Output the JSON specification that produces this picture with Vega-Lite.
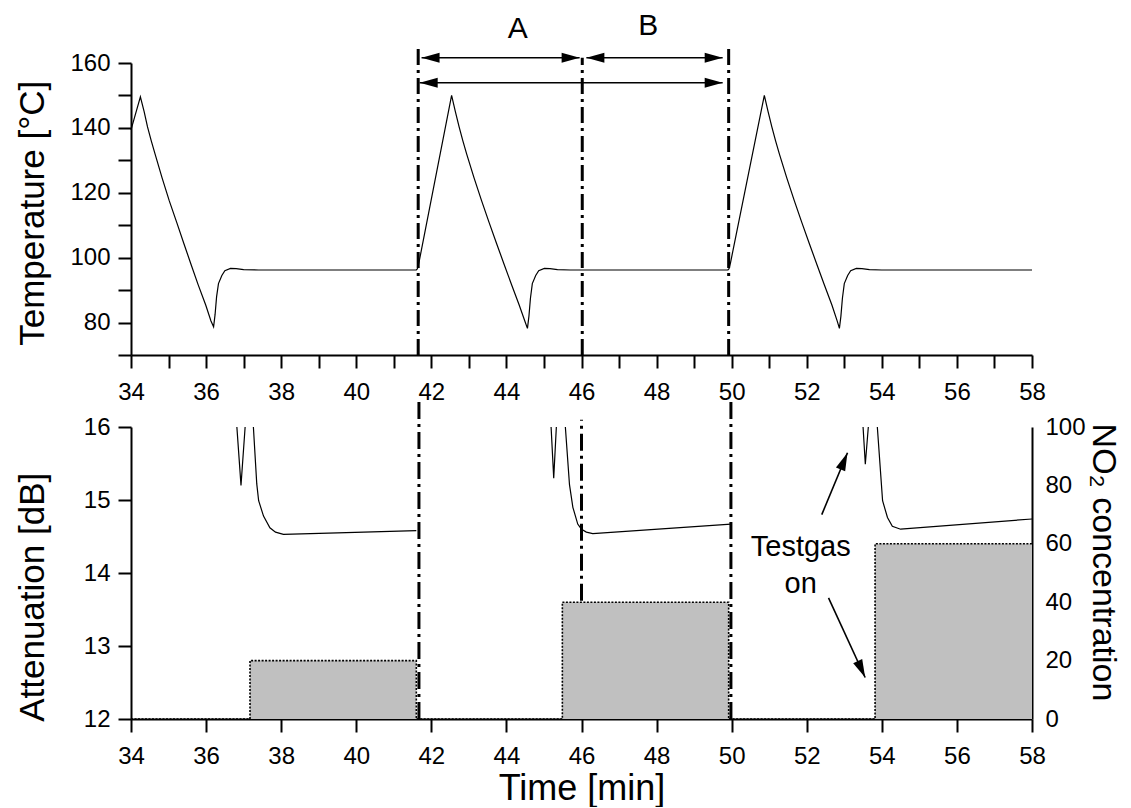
{
  "$schema": "https://vega.github.io/schema/vega-lite/v6.json",
  "background": "white",
  "padding": {"left": 15, "top": 11, "right": 0, "bottom": 0},
  "config": {
    "view": {"stroke": null},
    "font": "Liberation Sans",
    "axis": {
      "domainColor": "black", "domainWidth": 2, "tickColor": "black", "tickWidth": 2,
      "labelColor": "black", "labelFont": "Liberation Sans", "labelFontSize": 24,
      "titleFont": "Liberation Sans", "titleFontSize": 35, "titleFontWeight": "normal", "titleColor": "black",
      "grid": false, "labelOverlap": false, "labelFlush": false, "tickSize": 13, "labelPadding": 8
    }
  },
  "spacing": 72,
  "bounds": "flush",
  "datasets": {
    "temp": [
      {"t": 34.0, "T": 139.4}, {"t": 34.25, "T": 149.6}, {"t": 34.35, "T": 145}, {"t": 34.44, "T": 140.3},
      {"t": 34.54, "T": 136}, {"t": 34.64, "T": 132}, {"t": 34.83, "T": 124.5}, {"t": 35.02, "T": 117.5},
      {"t": 35.22, "T": 110.8}, {"t": 35.41, "T": 104.3}, {"t": 35.6, "T": 97.9}, {"t": 35.79, "T": 91.6},
      {"t": 35.99, "T": 85.4}, {"t": 36.13, "T": 80.5}, {"t": 36.2, "T": 78.7}, {"t": 36.24, "T": 82.5},
      {"t": 36.28, "T": 88}, {"t": 36.33, "T": 92}, {"t": 36.42, "T": 94.5}, {"t": 36.5, "T": 96},
      {"t": 36.65, "T": 96.7}, {"t": 36.8, "T": 96.6}, {"t": 37.0, "T": 96.3}, {"t": 37.4, "T": 96.2},
      {"t": 41.6, "T": 96.2}, {"t": 41.63, "T": 96.6}, {"t": 41.67, "T": 98.5}, {"t": 42.54, "T": 150},
      {"t": 42.64, "T": 145}, {"t": 42.74, "T": 140.3}, {"t": 42.84, "T": 136}, {"t": 42.94, "T": 132},
      {"t": 43.14, "T": 124.5}, {"t": 43.34, "T": 117.5}, {"t": 43.54, "T": 110.8}, {"t": 43.74, "T": 104.3},
      {"t": 43.94, "T": 97.9}, {"t": 44.14, "T": 91.6}, {"t": 44.34, "T": 85.4}, {"t": 44.49, "T": 80.5},
      {"t": 44.56, "T": 78.2}, {"t": 44.6, "T": 82}, {"t": 44.64, "T": 87.5}, {"t": 44.69, "T": 92},
      {"t": 44.78, "T": 94.5}, {"t": 44.86, "T": 96}, {"t": 45.01, "T": 96.7}, {"t": 45.16, "T": 96.6},
      {"t": 45.36, "T": 96.3}, {"t": 45.7, "T": 96.2}, {"t": 49.9, "T": 96.2}, {"t": 49.93, "T": 96.6},
      {"t": 49.97, "T": 98.5}, {"t": 50.87, "T": 150}, {"t": 50.97, "T": 145}, {"t": 51.07, "T": 140.3},
      {"t": 51.17, "T": 136}, {"t": 51.27, "T": 132}, {"t": 51.47, "T": 124.5}, {"t": 51.67, "T": 117.5},
      {"t": 51.87, "T": 110.8}, {"t": 52.07, "T": 104.3}, {"t": 52.27, "T": 97.9}, {"t": 52.47, "T": 91.6},
      {"t": 52.67, "T": 85.4}, {"t": 52.81, "T": 80.5}, {"t": 52.87, "T": 78.2}, {"t": 52.91, "T": 82},
      {"t": 52.95, "T": 87.5}, {"t": 53.0, "T": 92}, {"t": 53.09, "T": 94.5}, {"t": 53.17, "T": 96},
      {"t": 53.32, "T": 96.7}, {"t": 53.47, "T": 96.6}, {"t": 53.67, "T": 96.3}, {"t": 54.0, "T": 96.2},
      {"t": 58.0, "T": 96.2}
    ],
    "att": [
      {"seg": 1, "t": 36.82, "A": 16.0}, {"seg": 1, "t": 36.93, "A": 15.2}, {"seg": 1, "t": 37.04, "A": 16.0},
      {"seg": 1, "t": 37.15, "A": 17.0}, {"seg": 1, "t": 37.26, "A": 16.0}, {"seg": 1, "t": 37.35, "A": 15.22},
      {"seg": 1, "t": 37.4, "A": 14.99}, {"seg": 1, "t": 37.53, "A": 14.78}, {"seg": 1, "t": 37.7, "A": 14.62},
      {"seg": 1, "t": 37.85, "A": 14.56}, {"seg": 1, "t": 38.06, "A": 14.53}, {"seg": 1, "t": 39.5, "A": 14.55},
      {"seg": 1, "t": 41.6, "A": 14.58},
      {"seg": 2, "t": 45.19, "A": 16.0}, {"seg": 2, "t": 45.26, "A": 15.3}, {"seg": 2, "t": 45.33, "A": 16.0},
      {"seg": 2, "t": 45.45, "A": 17.0}, {"seg": 2, "t": 45.57, "A": 16.0}, {"seg": 2, "t": 45.68, "A": 15.21},
      {"seg": 2, "t": 45.77, "A": 14.9}, {"seg": 2, "t": 45.9, "A": 14.67}, {"seg": 2, "t": 46.0, "A": 14.6},
      {"seg": 2, "t": 46.13, "A": 14.56}, {"seg": 2, "t": 46.3, "A": 14.54}, {"seg": 2, "t": 49.98, "A": 14.67},
      {"seg": 3, "t": 53.5, "A": 16.0}, {"seg": 3, "t": 53.56, "A": 15.49}, {"seg": 3, "t": 53.64, "A": 16.0},
      {"seg": 3, "t": 53.76, "A": 17.0}, {"seg": 3, "t": 53.88, "A": 16.0}, {"seg": 3, "t": 54.02, "A": 14.99},
      {"seg": 3, "t": 54.15, "A": 14.76}, {"seg": 3, "t": 54.28, "A": 14.64}, {"seg": 3, "t": 54.5, "A": 14.6},
      {"seg": 3, "t": 58.0, "A": 14.74}
    ],
    "rects": [
      {"t": 37.17, "t2": 41.6, "c": 20}, {"t": 45.49, "t2": 49.92, "c": 40}, {"t": 53.82, "t2": 58, "c": 60}
    ],
    "conc": [
      {"i": 0, "t": 34, "c": 0}, {"i": 1, "t": 37.17, "c": 0}, {"i": 2, "t": 37.17, "c": 20}, {"i": 3, "t": 41.6, "c": 20},
      {"i": 4, "t": 41.6, "c": 0}, {"i": 5, "t": 45.49, "c": 0}, {"i": 6, "t": 45.49, "c": 40}, {"i": 7, "t": 49.92, "c": 40},
      {"i": 8, "t": 49.92, "c": 0}, {"i": 9, "t": 53.82, "c": 0}, {"i": 10, "t": 53.82, "c": 60}, {"i": 11, "t": 58, "c": 60}
    ],
    "vtop": [
      {"t": 41.65, "T": 70, "T2": 164.6}, {"t": 46.02, "T": 70, "T2": 161.6}, {"t": 49.92, "T": 70, "T2": 165.2}
    ],
    "vbot": [
      {"t": 41.67, "y1": 12, "y2": 16.36}, {"t": 46.0, "y1": 13.62, "y2": 16.1}, {"t": 49.98, "y1": 12, "y2": 16.36}
    ],
    "spans": [
      {"t": 41.74, "t2": 45.95, "T": 161.6}, {"t": 46.13, "t2": 49.76, "T": 161.6}, {"t": 41.69, "t2": 49.76, "T": 153.9}
    ],
    "headsTop": [
      {"t": 41.74, "T": 161.6, "dir": "left"}, {"t": 45.95, "T": 161.6, "dir": "right"},
      {"t": 46.13, "T": 161.6, "dir": "left"}, {"t": 49.76, "T": 161.6, "dir": "right"},
      {"t": 41.69, "T": 153.9, "dir": "left"}, {"t": 49.76, "T": 153.9, "dir": "right"}
    ],
    "labelsTop": [
      {"t": 44.3, "T": 167.7, "label": "A"}, {"t": 47.78, "T": 168.5, "label": "B"}
    ],
    "gasArrows": [
      {"t": 52.40, "A": 14.80, "t2": 53.085, "A2": 15.647},
      {"t": 52.58, "A": 13.66, "t2": 53.556, "A2": 12.569}
    ],
    "headsBot": [
      {"t": 53.085, "A": 15.647, "dir": "up"}, {"t": 53.556, "A": 12.569, "dir": "down"}
    ],
    "gasText": [
      {"t": 51.84, "A": 14.234, "label": "Testgas\non"}
    ]
  },
  "vconcat": [
    {
      "width": 901,
      "height": 292,
      "encoding": {
        "x": {
          "field": "t", "type": "quantitative", "scale": {"domain": [34, 58], "nice": false, "zero": false},
          "axis": {
            "title": null,
            "values": [34,35,36,37,38,39,40,41,42,43,44,45,46,47,48,49,50,51,52,53,54,55,56,57,58],
            "labelExpr": "datum.value % 2 === 0 ? '' + datum.value : ''",
            "tickSize": 13, "labelPadding": 12,
            "encode": {"ticks": {"y2": {"signal": "datum.value % 2 === 0 ? 13 : 7"}}}
          }
        },
        "y": {
          "field": "T", "type": "quantitative", "scale": {"domain": [70, 160], "nice": false, "zero": false},
          "axis": {
            "title": "Temperature [°C]",
            "values": [70,80,90,100,110,120,130,140,150,160],
            "labelExpr": "datum.value % 20 === 0 ? '' + datum.value : ''",
            "titleX": -80.7, "titleY": 149.8, "titleBaseline": "bottom", "titleAngle": 270, "titleAlign": "center",
            "encode": {"ticks": {"x2": {"signal": "datum.value % 20 === 0 ? -13 : -7"}}}
          }
        }
      },
      "layer": [
        {
          "data": {"name": "vtop"},
          "mark": {"type": "rule", "color": "black", "strokeWidth": 3, "strokeDash": [16, 5, 3, 5]},
          "encoding": {"y2": {"field": "T2"}}
        },
        {
          "data": {"name": "temp"},
          "mark": {"type": "line", "color": "black", "strokeWidth": 1.2},
          "encoding": {}
        },
        {
          "data": {"name": "spans"},
          "mark": {"type": "rule", "color": "black", "strokeWidth": 1.6},
          "encoding": {"x2": {"field": "t2"}}
        },
        {
          "data": {"name": "headsTop"},
          "mark": {"type": "point", "filled": true, "color": "black", "opacity": 1, "size": 324, "strokeWidth": 0},
          "encoding": {
            "shape": {
              "field": "dir", "type": "nominal", "legend": null,
              "scale": {"domain": ["left", "right", "up", "down"], "range": ["M0,0L2,-0.55L2,0.55Z", "M0,0L-2,-0.55L-2,0.55Z", "M0,0L-0.26,2.06L-1.28,1.64Z", "M0,0L-1.33,-1.59L-0.33,-2.05Z"]}
            }
          }
        },
        {
          "data": {"name": "labelsTop"},
          "mark": {"type": "text", "color": "black", "font": "Liberation Sans", "fontSize": 30, "align": "center", "baseline": "alphabetic"},
          "encoding": {"text": {"field": "label"}}
        }
      ]
    },
    {
      "width": 901,
      "height": 292,
      "resolve": {"scale": {"y": "independent"}},
      "layer": [
        {
          "layer": [
            {
              "data": {"name": "rects"},
              "mark": {"type": "rect", "color": "#c0c0c0"},
              "encoding": {
                "x": {
                  "field": "t", "type": "quantitative", "scale": {"domain": [34, 58], "nice": false, "zero": false},
                  "axis": {
                    "title": "Time [min]",
                    "titleFontSize": 36,
                    "values": [34,35,36,37,38,39,40,41,42,43,44,45,46,47,48,49,50,51,52,53,54,55,56,57,58],
                    "labelExpr": "datum.value % 2 === 0 ? '' + datum.value : ''",
                    "tickSize": 13, "labelPadding": 12, "titleY": 52.3, "titleBaseline": "top",
                    "encode": {"ticks": {"y2": {"signal": "datum.value % 2 === 0 ? 13 : 7"}}}
                  }
                },
                "x2": {"field": "t2"},
                "y": {
                  "field": "c", "type": "quantitative", "scale": {"domain": [0, 100], "nice": false, "zero": false},
                  "axis": {
                    "orient": "right",
                    "title": "NO₂ concentration",
                    "titleFontSize": 34,
                    "values": [0,10,20,30,40,50,60,70,80,90,100],
                    "labelExpr": "datum.value % 20 === 0 ? '' + datum.value : ''",
                    "tickSize": 0, "labelPadding": 13,
                    "titleX": 53, "titleY": 135, "titleBaseline": "bottom", "titleAngle": 90, "titleAlign": "center",
                    "encode": {"ticks": {"x2": {"signal": "datum.value % 20 === 0 ? -13 : -7"}}}
                  }
                },
                "y2": {"datum": 0}
              }
            },
            {
              "data": {"name": "conc"},
              "mark": {"type": "line", "color": "black", "strokeWidth": 1.6, "strokeDash": [2, 1.5]},
              "encoding": {
                "x": {"field": "t", "type": "quantitative", "scale": {"domain": [34, 58], "nice": false, "zero": false}},
                "y": {"field": "c", "type": "quantitative", "scale": {"domain": [0, 100], "nice": false, "zero": false}},
                "order": {"field": "i", "type": "quantitative"}
              }
            }
          ]
        },
        {
          "layer": [
            {
              "data": {"name": "vbot"},
              "mark": {"type": "rule", "color": "black", "strokeWidth": 3, "strokeDash": [17, 5, 3, 5]},
              "encoding": {
                "x": {"field": "t", "type": "quantitative", "scale": {"domain": [34, 58], "nice": false, "zero": false}},
                "y": {"field": "y1", "type": "quantitative", "scale": {"domain": [12, 16], "nice": false, "zero": false}},
                "y2": {"field": "y2"}
              }
            },
            {
              "data": {"name": "att"},
              "mark": {"type": "line", "color": "black", "strokeWidth": 1.2, "clip": true},
              "encoding": {
                "x": {"field": "t", "type": "quantitative", "scale": {"domain": [34, 58], "nice": false, "zero": false}},
                "y": {
                  "field": "A", "type": "quantitative", "scale": {"domain": [12, 16], "nice": false, "zero": false},
                  "axis": {
                    "orient": "left",
                    "title": "Attenuation [dB]",
                    "values": [12,12.5,13,13.5,14,14.5,15,15.5,16],
                    "labelExpr": "datum.value % 1 === 0 ? '' + datum.value : ''",
                    "titleX": -80.7, "titleY": 169.8, "titleBaseline": "bottom", "titleAngle": 270, "titleAlign": "center",
                    "encode": {"ticks": {"x2": {"signal": "datum.value % 1 === 0 ? -13 : -7"}}}
                  }
                },
                "detail": {"field": "seg", "type": "nominal"}
              }
            },
            {
              "data": {"name": "gasArrows"},
              "mark": {"type": "rule", "color": "black", "strokeWidth": 1.6},
              "encoding": {
                "x": {"field": "t", "type": "quantitative", "scale": {"domain": [34, 58], "nice": false, "zero": false}},
                "x2": {"field": "t2"},
                "y": {"field": "A", "type": "quantitative", "scale": {"domain": [12, 16], "nice": false, "zero": false}},
                "y2": {"field": "A2"}
              }
            },
            {
              "data": {"name": "headsBot"},
              "mark": {"type": "point", "filled": true, "color": "black", "opacity": 1, "size": 324, "strokeWidth": 0},
              "encoding": {
                "x": {"field": "t", "type": "quantitative", "scale": {"domain": [34, 58], "nice": false, "zero": false}},
                "y": {"field": "A", "type": "quantitative", "scale": {"domain": [12, 16], "nice": false, "zero": false}},
                "shape": {
                  "field": "dir", "type": "nominal", "legend": null,
                  "scale": {"domain": ["left", "right", "up", "down"], "range": ["M0,0L2,-0.55L2,0.55Z", "M0,0L-2,-0.55L-2,0.55Z", "M0,0L-0.26,2.06L-1.28,1.64Z", "M0,0L-1.33,-1.59L-0.33,-2.05Z"]}
                }
              }
            },
            {
              "data": {"name": "gasText"},
              "mark": {"type": "text", "color": "black", "font": "Liberation Sans", "fontSize": 29, "align": "center", "baseline": "alphabetic", "lineBreak": "\n", "lineHeight": 36.7},
              "encoding": {
                "x": {"field": "t", "type": "quantitative", "scale": {"domain": [34, 58], "nice": false, "zero": false}},
                "y": {"field": "A", "type": "quantitative", "scale": {"domain": [12, 16], "nice": false, "zero": false}},
                "text": {"field": "label"}
              }
            }
          ]
        }
      ]
    }
  ]
}
